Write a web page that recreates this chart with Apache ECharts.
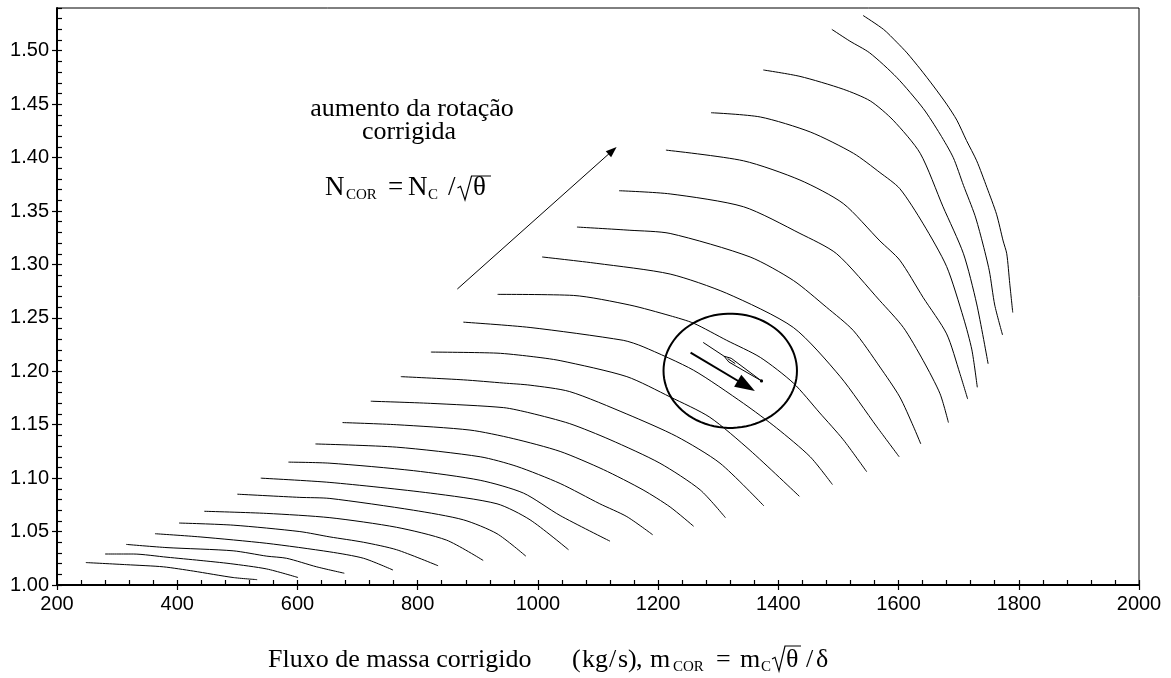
<!DOCTYPE html>
<html><head><meta charset="utf-8">
<script src="https://cdn.jsdelivr.net/npm/echarts@6/dist/echarts.min.js"></script>
<style>html,body{margin:0;padding:0;background:#fff}#c{width:1171px;height:678px}</style>
</head><body><div id="c"></div>
<script>
// ---------------- data ----------------
const xMin = 200, xMax = 2000, xStep = 200, xMinorStep = 40;
const yMin = 1.0, yMax = 1.54, yMinorStep = 0.01;
const yTickValues = [1.00, 1.05, 1.10, 1.15, 1.20, 1.25, 1.30, 1.35, 1.40, 1.45, 1.50];

const speed01 = [[248,1.021],[316,1.019],[377,1.017],[427,1.013],[493,1.007],[533,1.005]];
const speed02 = [[280,1.029],[327,1.029],[383,1.026],[438,1.023],[488,1.020],[549,1.015],[601,1.007]];
const speed03 = [[315,1.038],[383,1.035],[493,1.032],[549,1.027],[582,1.025],[632,1.017],[678,1.011]];
const speed04 = [[363,1.048],[438,1.045],[549,1.039],[654,1.031],[710,1.025],[759,1.014]];
const speed05 = [[403,1.058],[493,1.056],[604,1.050],[654,1.045],[710,1.040],[765,1.033],[834,1.018]];
const speed06 = [[445,1.069],[549,1.067],[654,1.063],[765,1.054],[848,1.042],[909,1.023]];
const speed07 = [[500,1.085],[604,1.082],[654,1.081],[793,1.070],[876,1.061],[932,1.048],[980,1.027]];
const speed08 = [[539,1.100],[654,1.096],[821,1.086],[932,1.076],[987,1.061],[1051,1.033]];
const speed09 = [[585,1.115],[654,1.114],[793,1.107],[904,1.098],[976,1.086],[1037,1.065],[1120,1.041]];
const speed10 = [[630,1.132],[765,1.129],[904,1.120],[965,1.111],[1037,1.095],[1103,1.076],[1148,1.064],[1191,1.047]];
const speed11 = [[675,1.152],[765,1.150],[887,1.145],[959,1.137],[1037,1.125],[1109,1.108],[1175,1.089],[1220,1.073],[1259,1.055]];
const speed12 = [[722,1.172],[821,1.170],[943,1.166],[987,1.161],[1053,1.151],[1120,1.136],[1203,1.114],[1270,1.089],[1312,1.063]];
const speed13 = [[772,1.195],[876,1.192],[943,1.189],[987,1.187],[1053,1.181],[1148,1.160],[1231,1.139],[1303,1.114],[1376,1.074]];
const speed14 = [[822,1.218],[932,1.217],[987,1.214],[1037,1.210],[1148,1.195],[1220,1.176],[1286,1.157],[1353,1.126],[1435,1.083]];
const speed15 = [[876,1.246],[987,1.241],[1142,1.229],[1175,1.223],[1259,1.201],[1342,1.170],[1397,1.147],[1453,1.120],[1490,1.094]];
const speed16 = [[933,1.272],[1059,1.271],[1153,1.262],[1220,1.252],[1259,1.245],[1314,1.229],[1370,1.213],[1425,1.189],[1469,1.161],[1508,1.136],[1547,1.106]];
const speed17 = [[1007,1.307],[1098,1.301],[1220,1.291],[1314,1.273],[1425,1.241],[1503,1.195],[1564,1.148],[1601,1.120]];
const speed18 = [[1065,1.335],[1153,1.332],[1220,1.329],[1353,1.307],[1425,1.285],[1480,1.260],[1525,1.238],[1569,1.204],[1602,1.176],[1625,1.148],[1637,1.132]];
const speed19 = [[1135,1.369],[1220,1.366],[1342,1.354],[1436,1.329],[1497,1.310],[1569,1.266],[1608,1.241],[1641,1.210],[1669,1.179],[1683,1.152]];
const speed20 = [[1213,1.407],[1342,1.397],[1436,1.379],[1508,1.357],[1569,1.322],[1602,1.304],[1641,1.269],[1680,1.235],[1702,1.198],[1715,1.174]];
const speed21 = [[1288,1.442],[1370,1.438],[1453,1.424],[1525,1.404],[1569,1.386],[1602,1.371],[1641,1.338],[1680,1.298],[1708,1.250],[1722,1.220],[1731,1.185]];
const speed22 = [[1375,1.482],[1436,1.476],[1508,1.464],[1553,1.453],[1591,1.435],[1636,1.404],[1674,1.354],[1708,1.310],[1730,1.263],[1749,1.207]];
const speed23 = [[1489,1.520],[1519,1.509],[1552,1.498],[1597,1.475],[1641,1.446],[1669,1.422],[1691,1.400],[1708,1.374],[1727,1.346],[1739,1.322],[1751,1.294],[1760,1.262],[1773,1.234]];
const speed24 = [[1541,1.533],[1575,1.520],[1597,1.508],[1614,1.498],[1636,1.483],[1658,1.467],[1680,1.450],[1697,1.435],[1713,1.416],[1730,1.397],[1747,1.372],[1763,1.347],[1774,1.322],[1780,1.310],[1785,1.282],[1790,1.255]];

// annotation geometry (data units)
const arrowRise = [[866,1.277],[1131,1.410]];
const arrowBold = [[1254,1.2175],[1361,1.1816]];
const arrowThin = [[1275,1.227],[1372,1.191]];
const ellipseCenter = [1320, 1.2005];
const ellipseRadii = [111, 0.0535];

const annotationLines = ['aumento da rotação', 'corrigida'];
const xTitleMain = 'Fluxo de massa corrigido';

// ---------------- chart ----------------
const SERIF = '"Liberation Serif","Times New Roman",serif';
const SANS = '"Liberation Sans",Arial,sans-serif';
const speeds = [speed01,speed02,speed03,speed04,speed05,speed06,speed07,speed08,speed09,speed10,speed11,speed12,
                speed13,speed14,speed15,speed16,speed17,speed18,speed19,speed20,speed21,speed22,speed23,speed24];

const chart = echarts.init(document.getElementById('c'), null, {renderer: 'canvas'});

function txt(t, x, base, size, align) {
  return {type: 'text', x: x, y: base - 0.34 * size, silent: true, z: 100,
    style: {text: t, fontSize: size, fontFamily: SERIF, fill: '#000', align: align || 'left', verticalAlign: 'middle'}};
}
function radical(pts) {
  return {type: 'polyline', silent: true, z: 100, shape: {points: pts}, style: {stroke: '#000', lineWidth: 1.2, fill: null}};
}

const graphics = [
  txt(annotationLines[0], 412, 118, 26, 'center'),
  txt(annotationLines[1], 409, 141.5, 26, 'center'),
  // N_COR = N_C / sqrt(theta)
  txt('N', 325, 197, 27), txt('COR', 346, 200, 15), txt('=', 388, 197, 27),
  txt('N', 408, 197, 27), txt('C', 428, 200, 15), txt('/', 448, 197, 27),
  radical([[457.5, 188], [460.5, 186.3], [465, 200], [471.5, 176], [491, 176]]),
  txt('\u03B8', 473, 197, 27),
  // x-axis title
  txt(xTitleMain, 268, 669, 26),
  txt('(', 572, 669, 26), txt('kg', 582, 669, 26), txt('/', 609, 669, 26), txt('s', 618, 669, 26), txt(')', 628, 669, 26),
  txt(',', 636, 669, 26), txt('m', 650, 669, 26), txt('COR', 673, 672, 15), txt('=', 716, 669, 26),
  txt('m', 740, 669, 26), txt('C', 761, 672, 15),
  radical([[772, 659], [775, 657.3], [779, 671], [785, 646], [801, 646]]),
  txt('\u03B8', 786, 669, 26),
  txt('/', 806, 669, 26), txt('\u03B4', 816, 669, 26)
];

function arrowShape(p1, p2, api, headLen, headW, lw) {
  const a = api.coord(p1), b = api.coord(p2);
  const dx = b[0] - a[0], dy = b[1] - a[1], L = Math.hypot(dx, dy), ux = dx / L, uy = dy / L;
  const base = [b[0] - ux * headLen, b[1] - uy * headLen];
  const l = [base[0] - uy * headW / 2, base[1] + ux * headW / 2];
  const r = [base[0] + uy * headW / 2, base[1] - ux * headW / 2];
  return [
    {type: 'line', shape: {x1: a[0], y1: a[1], x2: base[0] + ux * 2, y2: base[1] + uy * 2}, style: {stroke: '#000', lineWidth: lw}},
    {type: 'polygon', shape: {points: [b, l, r]}, style: {fill: '#000'}}
  ];
}

const series = speeds.map((d, i) => ({
  type: 'line', name: 'N' + (i + 1), data: d, symbol: 'none', showSymbol: false, smooth: 0.25,
  lineStyle: {color: '#000', width: 1}, silent: true, z: 2
}));

series.push({
  type: 'custom', coordinateSystem: 'cartesian2d', silent: true, z: 5,
  data: [0],
  renderItem: function (params, api) {
    const children = [];
    children.push(...arrowShape(arrowRise[0], arrowRise[1], api, 11, 8, 1));
    const c = api.coord(ellipseCenter);
    const ex = api.coord([ellipseCenter[0] + ellipseRadii[0], ellipseCenter[1]]);
    const ey = api.coord([ellipseCenter[0], ellipseCenter[1] + ellipseRadii[1]]);
    const Rx = ex[0] - c[0], Ry = c[1] - ey[1];
    const pts = [];
    for (let i = 0; i < 90; i++) {
      const t = i / 90 * 2 * Math.PI;
      pts.push([c[0] + Rx * Math.cos(t), c[1] + Ry * Math.sin(t)]);
    }
    children.push({type: 'polygon', shape: {points: pts}, style: {fill: 'none', stroke: '#000', lineWidth: 2}});
    children.push(...arrowShape(arrowBold[0], arrowBold[1], api, 20, 14, 2));
    const a = api.coord(arrowThin[0]), b = api.coord(arrowThin[1]);
    const dx = b[0] - a[0], dy = b[1] - a[1], L = Math.hypot(dx, dy), ux = dx / L, uy = dy / L;
    const P = (t, w) => [a[0] + dx * t - uy * w, a[1] + dy * t + ux * w];
    children.push({type: 'line', shape: {x1: a[0], y1: a[1], x2: P(0.38, 0)[0], y2: P(0.38, 0)[1]}, style: {stroke: '#000', lineWidth: 1}});
    children.push({type: 'polygon', shape: {points: [P(0.36, 0), P(0.46, 2.2), b, P(0.46, -2.2)]}, style: {fill: 'none', stroke: '#000', lineWidth: 1}});
    children.push({type: 'polyline', shape: {points: [P(0.42, 0), P(0.55, 0)]}, style: {stroke: '#000', lineWidth: 1}});
    children.push({type: 'circle', shape: {cx: b[0], cy: b[1], r: 1.6}, style: {fill: '#000'}});
    return {type: 'group', children: children};
  }
});

const option = {
  animation: false,
  backgroundColor: '#fff',
  grid: {left: 57, right: 32, top: 8, bottom: 93, show: true, borderColor: '#000', borderWidth: 1,
         backgroundColor: 'transparent', outerBoundsMode: 'none', containLabel: false},
  xAxis: [
    {type: 'value', position: 'bottom', min: xMin, max: xMax, interval: xStep,
     axisLine: {show: true, onZero: false, lineStyle: {color: '#000', width: 2}},
     axisTick: {show: true, inside: false, length: 5, lineStyle: {color: '#000', width: 1.2}},
     axisLabel: {show: true, margin: 9, color: '#000', fontSize: 20, fontFamily: SANS, formatter: v => String(v)},
     splitLine: {show: false}, minorTick: {show: false}},
    {type: 'value', position: 'bottom', min: xMin, max: xMax, interval: xMinorStep,
     axisLine: {show: false, onZero: false},
     axisTick: {show: true, inside: true, length: 5, lineStyle: {color: '#000', width: 1.2}},
     axisLabel: {show: false}, splitLine: {show: false}}
  ],
  yAxis: [
    {type: 'value', position: 'left', min: yMin, max: yMax, interval: 0.05,
     axisLine: {show: true, onZero: false, lineStyle: {color: '#000', width: 2}},
     axisTick: {show: true, inside: false, length: 5, customValues: yTickValues, lineStyle: {color: '#000', width: 1.2}},
     axisLabel: {show: true, margin: 8, color: '#000', fontSize: 20, fontFamily: SANS, customValues: yTickValues,
                 formatter: v => v.toFixed(2)},
     splitLine: {show: false}},
    {type: 'value', position: 'left', min: yMin, max: yMax, interval: yMinorStep,
     axisLine: {show: false, onZero: false},
     axisTick: {show: true, inside: true, length: 5, lineStyle: {color: '#000', width: 1.2}},
     axisLabel: {show: false}, splitLine: {show: false}}
  ],
  series: series,
  graphic: graphics
};
chart.setOption(option);
</script></body></html>
